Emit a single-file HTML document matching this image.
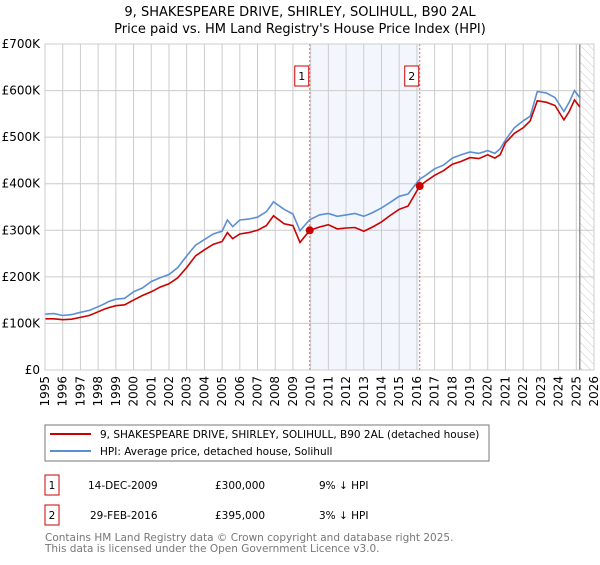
<!DOCTYPE html>
<html><head><meta charset="utf-8"><style>
body{margin:0;background:#fff;}
svg text{font-family:"DejaVu Sans","Liberation Sans",sans-serif;}
</style></head><body>
<svg id="c" width="600" height="560" xmlns="http://www.w3.org/2000/svg">
<defs><pattern id="hatch" width="6" height="6" patternUnits="userSpaceOnUse" patternTransform="rotate(-45)"><line x1="0" y1="0" x2="0" y2="6" stroke="#ccc" stroke-width="1"/></pattern></defs>
<text x="300" y="16" text-anchor="middle" font-size="13">9, SHAKESPEARE DRIVE, SHIRLEY, SOLIHULL, B90 2AL</text>
<text x="300" y="33" text-anchor="middle" font-size="13">Price paid vs. HM Land Registry's House Price Index (HPI)</text>
<g id="plot"></g>
<g>
<rect x="45" y="425" width="444" height="36" fill="#fff" stroke="#777"/>
<line x1="50" y1="434" x2="91" y2="434" stroke="#cc0000" stroke-width="2"/>
<text x="100" y="438" font-size="10.5">9, SHAKESPEARE DRIVE, SHIRLEY, SOLIHULL, B90 2AL (detached house)</text>
<line x1="50" y1="451" x2="91" y2="451" stroke="#5b8fd4" stroke-width="2"/>
<text x="100" y="455" font-size="10.5">HPI: Average price, detached house, Solihull</text>
</g>
<g font-size="10.5">
<rect x="45" y="475" width="14" height="20" fill="#fff" stroke="#cc0000"/><text x="52" y="489" text-anchor="middle">1</text>
<text x="88" y="489">14-DEC-2009</text><text x="215" y="489">£300,000</text><text x="319" y="489">9% ↓ HPI</text>
<rect x="45" y="505" width="14" height="20" fill="#fff" stroke="#cc0000"/><text x="52" y="519" text-anchor="middle">2</text>
<text x="90" y="519">29-FEB-2016</text><text x="215" y="519">£395,000</text><text x="319" y="519">3% ↓ HPI</text>
</g>
<g font-size="10.5" fill="#777">
<text x="45" y="541">Contains HM Land Registry data © Crown copyright and database right 2025.</text>
<text x="45" y="552">This data is licensed under the Open Government Licence v3.0.</text>
</g>
</svg>
<script>
const years=[1995,1996,1997,1998,1999,2000,2001,2002,2003,2004,2005,2006,2007,2008,2009,2010,2011,2012,2013,2014,2015,2016,2017,2018,2019,2020,2021,2022,2023,2024,2025,2026];
const yTicks=[0,100000,200000,300000,400000,500000,600000,700000];
const yTickLabels=["£0","£100K","£200K","£300K","£400K","£500K","£600K","£700K"];
const times=[1995,1995.5,1996,1996.5,1997,1997.5,1998,1998.3,1998.6,1999,1999.5,2000,2000.5,2001,2001.5,2002,2002.5,2003,2003.5,2004,2004.5,2005,2005.3,2005.6,2006,2006.5,2007,2007.5,2007.9,2008.5,2009,2009.4,2009.95,2010.5,2011,2011.5,2012,2012.5,2013,2013.5,2014,2014.5,2015,2015.5,2016.16,2016.5,2017,2017.5,2018,2018.5,2019,2019.5,2020,2020.4,2020.7,2021,2021.5,2022,2022.4,2022.8,2023.3,2023.8,2024.3,2024.6,2024.9,2025.2];
const hpiValues=[120000,121000,117000,119000,124000,128000,136000,141000,147000,152000,154000,168000,176000,190000,198000,205000,220000,245000,268000,280000,292000,298000,322000,308000,322000,324000,328000,340000,361000,345000,335000,299000,323000,333000,336000,330000,333000,336000,330000,338000,348000,360000,373000,378000,410000,418000,432000,440000,455000,462000,468000,465000,471000,465000,475000,494000,520000,535000,545000,598000,595000,585000,555000,575000,600000,585000];
const priceValues=[110000,110000,108000,109000,113000,117000,125000,130000,134000,138000,140000,150000,160000,168000,178000,185000,198000,220000,245000,258000,270000,276000,295000,282000,292000,295000,300000,310000,331000,314000,310000,274000,300000,307000,312000,303000,305000,306000,298000,307000,318000,332000,345000,352000,395000,405000,418000,428000,442000,448000,456000,454000,462000,455000,462000,488000,508000,520000,535000,578000,575000,568000,537000,555000,580000,565000];
const sales=[{t:2009.95,v:300000,n:"1"},{t:2016.16,v:395000,n:"2"}];
const NS="http://www.w3.org/2000/svg";
const X0=45,X1=594,Y0=370,Y1=44;
const xs=t=>X0+(t-1995)/(2026-1995)*(X1-X0);
const ys=v=>Y0-v/700000*(Y0-Y1);
const g=document.getElementById('plot');
function mk(tag,attrs,parent){const e=document.createElementNS(NS,tag);for(const k in attrs)e.setAttribute(k,attrs[k]);(parent||g).appendChild(e);return e;}
const shade=mk('rect',{x:xs(sales[0].t),y:Y1,width:xs(sales[1].t)-xs(sales[0].t),height:Y0-Y1,fill:'#eef3fc',opacity:0.7});


const hat=mk('rect',{x:xs(2025.2),y:Y1,width:X1-xs(2025.2),height:Y0-Y1,fill:'url(#hatch)'});


years.forEach((yr,i)=>{
  const l=mk('line',{x1:xs(yr),x2:xs(yr),y1:Y1,y2:Y0,stroke:'#ccc','stroke-width':1});
  
  
  const x=xs(yr),t=mk('text',{x:x+4,y:Y0+6,'font-size':12,transform:`rotate(-90 ${x+4} ${Y0+6})`,'text-anchor':'end'});
  t.textContent=yr;
  
  
});
yTicks.forEach((v,i)=>{
  const l=mk('line',{x1:X0,x2:X1,y1:ys(v),y2:ys(v),stroke:'#ccc','stroke-width':1});
  
  
  const t=mk('text',{x:X0-5,y:ys(v)+4,'font-size':12,'text-anchor':'end'});
  t.textContent=yTickLabels[i];
  
  
});
const nowL=mk('line',{x1:xs(2025.2),x2:xs(2025.2),y1:Y1,y2:Y0,stroke:'#666','stroke-width':1});


sales.forEach(s=>{
  const l=mk('line',{x1:xs(s.t),x2:xs(s.t),y1:Y1,y2:Y0,stroke:'#e66','stroke-width':1,'stroke-dasharray':'2,2'});
  
  
  const r=mk('rect',{x:xs(s.t)-15,y:66,width:14,height:20,fill:'#fff',stroke:'#cc0000'});
  
  
  const t=mk('text',{x:xs(s.t)-8,y:80,'font-size':11,'text-anchor':'middle'});
  t.textContent=s.n;
  
  
});
const pl=(vals)=>times.map((t,i)=>xs(t).toFixed(1)+','+ys(vals[i]).toFixed(1)).join(' ');
const hp=mk('polyline',{points:pl(hpiValues),fill:'none',stroke:'#5b8fd4','stroke-width':1.6});


const pp=mk('polyline',{points:pl(priceValues),fill:'none',stroke:'#cc0000','stroke-width':1.6});


sales.forEach(s=>{
  const c=mk('circle',{cx:xs(s.t),cy:ys(s.v),r:4,fill:'#cc0000'});
  
  
});
const fr=mk('rect',{x:X0,y:Y1,width:X1-X0,height:Y0-Y1,fill:'none',stroke:'#ccc'});


</script>
</body></html>
